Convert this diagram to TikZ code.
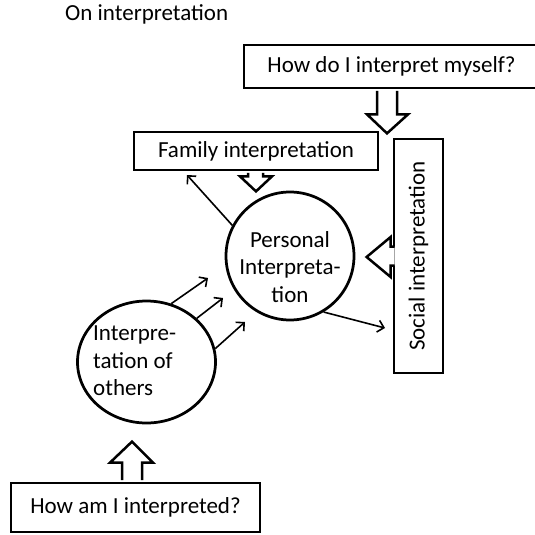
\documentclass[tikz,border=0pt]{standalone}
\usepackage{fontspec}
\setmainfont{Carlito}
\usetikzlibrary{arrows.meta,calc,shapes.geometric}
\begin{document}
\begin{tikzpicture}[x=1pt,y=-1pt,
  txt/.style={font=\fontsize{23}{27.5}\selectfont, inner sep=0pt},
  box/.style={draw, line width=2.75pt, inner sep=0pt, txt},
  ring/.style={draw, line width=2.75pt, inner sep=0pt},
  thinarrow/.style={line width=1.6pt, -{Straight Barb[length=6pt,width=12pt]}},
  block/.style={draw, fill=white, line width=2.5pt, line join=miter}
]
\clip (0,0) rectangle (535,535);

% title
\node[txt, anchor=base west] (title) at (65,21) {On interpretation};

% boxes
\node[box, minimum width=295, minimum height=43] (myself) at (391.5,66.5) {How do I interpret myself?};
\node[box, minimum width=244, minimum height=38] (family) at (256,151) {Family interpretation};
\node[box, minimum width=49, minimum height=234] (social) at (418.5,256) {};
\node[txt, rotate=90] (socialtext) at (social.center) {Social interpretation};
\node[box, minimum width=249, minimum height=49] (asked) at (135.5,507.5) {How am I interpreted?};

% circles
\node[ring, circle, minimum size=128] (personal) at (290,256) {};
\node[txt, align=center] (personaltext) at (290,267) {Personal\\Interpreta-\\tion};
\node[ring, ellipse, minimum width=138, minimum height=122] (others) at (146.5,362) {};
\node[txt, align=left, anchor=west] (otherstext) at (93,361) {Interpre-\\tation of\\others};

% block arrows
\draw[block] ([xshift=-14.5pt,yshift=-1.4pt]myself.south) -- ++(0,23.6) -- ++(-10,0)
  -- ++(20,19) -- ++(21,-19) -- ++(-11,0) -- ++(0,-23.6);
\draw[block] ([xshift=-8pt,yshift=-1.4pt]family.south) -- ++(0,3.6) -- ++(-8,0)
  -- ++(16,15) -- ++(16,-15) -- ++(-9,0) -- ++(0,-3.6);
\draw[block] ([xshift=-13.5pt,yshift=1.4pt]asked.north) -- ++(0,-17.6) -- ++(-12,0)
  -- ++(22,-21) -- ++(21,21) -- ++(-11,0) -- ++(0,17.6);
\draw[block] ([xshift=2pt,yshift=9.5pt]social.west) -- ++(-4,0) -- ++(0,-9.5)
  -- ++(-24,20) -- ++(24,20) -- ++(0,-11.5) -- ++(4,0);

% free ends of the thin arrows
\coordinate (famend) at (187,175);
\coordinate (socend) at (385,328);
\coordinate (oend1) at (208,278);
\coordinate (oend2) at (223,298);
\coordinate (oend3) at (245,322);

\draw[thinarrow] (personal.152) -- (famend);
\draw[thinarrow] (personal.-59) -- (socend);
\draw[thinarrow] (others.67.6) -- (oend1);
\draw[thinarrow] (others.41.7) -- (oend2);
\draw[thinarrow] (others.11.2) -- (oend3);
\end{tikzpicture}
\end{document}
